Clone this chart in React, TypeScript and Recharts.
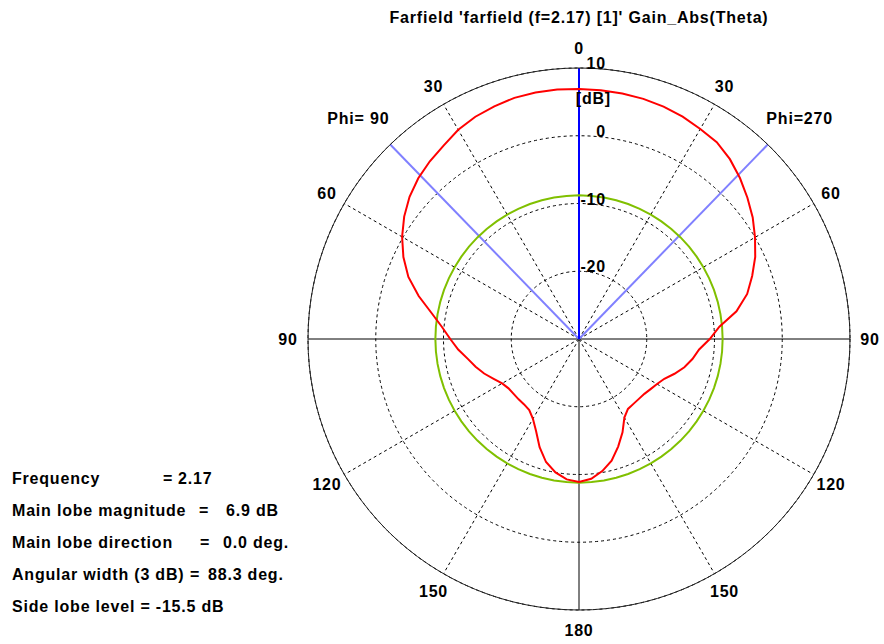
import React from 'react'
import { RadarChart, Radar, PolarGrid, PolarAngleAxis, PolarRadiusAxis } from 'recharts'

// theta step of the sampled farfield cut (deg)
const thetaStep = 5
// Gain_Abs [dB], theta = 0..180, Phi=270 half (right side of the plot)
const gainPhi270 = [
  6.9, 6.85, 6.8, 6.7, 6.5, 6.2, 5.8, 5.45, 4.65, 3.6, 2.45, 1.3, 0.0, -1.3, -2.8, -4.3, -6.4, -9.2,
  -10.7, -12.2, -13.0, -13.9, -15.0, -16.1, -16.7, -17.1, -17.4, -17.5, -17.5, -17.4, -16.6, -14.8,
  -13.1, -11.4, -10.2, -9.3, -8.9,
]
// Gain_Abs [dB], theta = 0..180, Phi=90 half (left side of the plot)
const gainPhi90 = [
  6.9, 6.95, 6.95, 6.85, 6.55, 6.2, 5.65, 4.85, 4.25, 3.55, 2.65, 1.5, 0.15, -1.4, -3.2, -5.5, -7.9, -9.7,
  -11.0, -12.1, -13.3, -14.2, -15.1, -16.1, -16.9, -17.3, -17.4, -17.4, -17.4, -17.2, -16.4, -15.0,
  -13.0, -11.2, -10.0, -9.2, -8.9,
]
const sideLobeCircle = -8.8 // green reference circle
const mainLobeDirection = 0.0
const angularWidth = 88.3
const radiusDomain = [-30, 10]
const thetaLabelStep = 30

const title = "Farfield 'farfield (f=2.17) [1]' Gain_Abs(Theta)"
const infoLabels = ['Frequency', 'Main lobe magnitude', 'Main lobe direction', 'Angular width (3 dB)', 'Side lobe level = -15.5 dB']
const infoValues = ['2.17', '6.9 dB', '0.0 deg.', '88.3 deg.', '']

const CX = 579
const CY = 339
const R = 271

const data = Array.from({ length: 360 / thetaStep }, (_, i) => {
  const p = i * thetaStep
  const gain = p <= 180 ? gainPhi270[p / thetaStep] : gainPhi90[(360 - p) / thetaStep]
  return { p, gain, ref: sideLobeCircle }
})

const font = '"Liberation Sans", Arial, sans-serif'
const ls = 0.8

const AngleTick = (props: any) => {
  const { payload } = props
  const p = payload.value
  const theta = p <= 180 ? p : 360 - p
  const rad = (-payload.coordinate * Math.PI) / 180
  if (p === 45 || p === 315) {
    return (
      <text x={CX + 312 * Math.cos(rad)} y={CY + 312 * Math.sin(rad)} textAnchor="middle" dominantBaseline="central"
        fontFamily={font} fontWeight="bold" fontSize={16} letterSpacing={ls} fill="#000">
        {p === 45 ? 'Phi=270' : 'Phi= 90'}
      </text>
    )
  }
  if (theta % thetaLabelStep !== 0) return <g />
  return (
    <text x={CX + 291 * Math.cos(rad)} y={CY + 291 * Math.sin(rad)} textAnchor="middle" dominantBaseline="central"
      fontFamily={font} fontWeight="bold" fontSize={16} letterSpacing={ls} fill="#000">
      {theta}
    </text>
  )
}

const RadiusTick = (props: any) => {
  const { x, y, payload } = props
  if (payload.value === radiusDomain[0]) return <g />
  return (
    <g>
      <text x={x + 27} y={y + 1} textAnchor="end" fontFamily={font} fontWeight="bold" fontSize={16}
        letterSpacing={ls} fill="#000">
        {payload.value}
      </text>
      {payload.value === radiusDomain[1] && (
        <text x={x + 32} y={y + 36} textAnchor="end" fontFamily={font} fontWeight="bold" fontSize={16}
          letterSpacing={ls} fill="#000">
          [dB]
        </text>
      )}
    </g>
  )
}

// x of the "=" sign and of the value on each info line
const eqX = [163, 199, 200, 190]
const valX = [178, 226, 223, 208]
const textStyle: React.CSSProperties = {
  position: 'absolute', fontFamily: font, fontWeight: 'bold', fontSize: 16, lineHeight: '18px',
  whiteSpace: 'pre', color: '#000', letterSpacing: ls,
}

export default function App() {
  const mainAngle = 90 - mainLobeDirection
  return (
    <div style={{ position: 'absolute', left: 0, top: 0, width: 884, height: 644, background: '#fff' }}>
      <RadarChart width={884} height={644} data={data} cx={CX} cy={CY} outerRadius={R}
        margin={{ top: 0, right: 0, bottom: 0, left: 0 }}>
        <PolarGrid gridType="circle" polarAngles={[60, 30, -30, -60, 120, 150, 210, 240]}
          stroke="#000" strokeDasharray="3 3" />
        <PolarGrid polarAngles={[0, 180, 270]} polarRadius={[]} stroke="#000" />
        <PolarAngleAxis dataKey="p" tick={AngleTick} tickLine={false} axisLineType="circle"
          axisLine={{ stroke: '#222' }} />
        <PolarRadiusAxis angle={90} domain={radiusDomain} type="number" tickCount={5}
          axisLine={false} tickLine={false} tick={RadiusTick} />
        <PolarGrid polarAngles={[mainAngle - angularWidth / 2, mainAngle + angularWidth / 2]} polarRadius={[]}
          stroke="#8080ff" strokeWidth={2} />
        <PolarGrid polarAngles={[mainAngle]} polarRadius={[]} stroke="#0000ff" strokeWidth={2} />
        <Radar dataKey="ref" stroke="#80c000" strokeWidth={2} fill="none" fillOpacity={0} dot={false}
          isAnimationActive={false} />
        <Radar dataKey="gain" stroke="#ff0000" strokeWidth={2} fill="none" fillOpacity={0} dot={false}
          isAnimationActive={false} />
      </RadarChart>
      <div style={{ ...textStyle, left: CX - 300, top: 9, width: 600, textAlign: 'center' }}>{title}</div>
      {infoLabels.map((label, i) => (
        <React.Fragment key={label}>
          <div style={{ ...textStyle, left: 12, top: 470 + i * 32 }}>{label}</div>
          {infoValues[i] !== '' && (
            <>
              <div style={{ ...textStyle, left: eqX[i], top: 470 + i * 32 }}>=</div>
              <div style={{ ...textStyle, left: valX[i], top: 470 + i * 32 }}>{infoValues[i]}</div>
            </>
          )}
        </React.Fragment>
      ))}
    </div>
  )
}
